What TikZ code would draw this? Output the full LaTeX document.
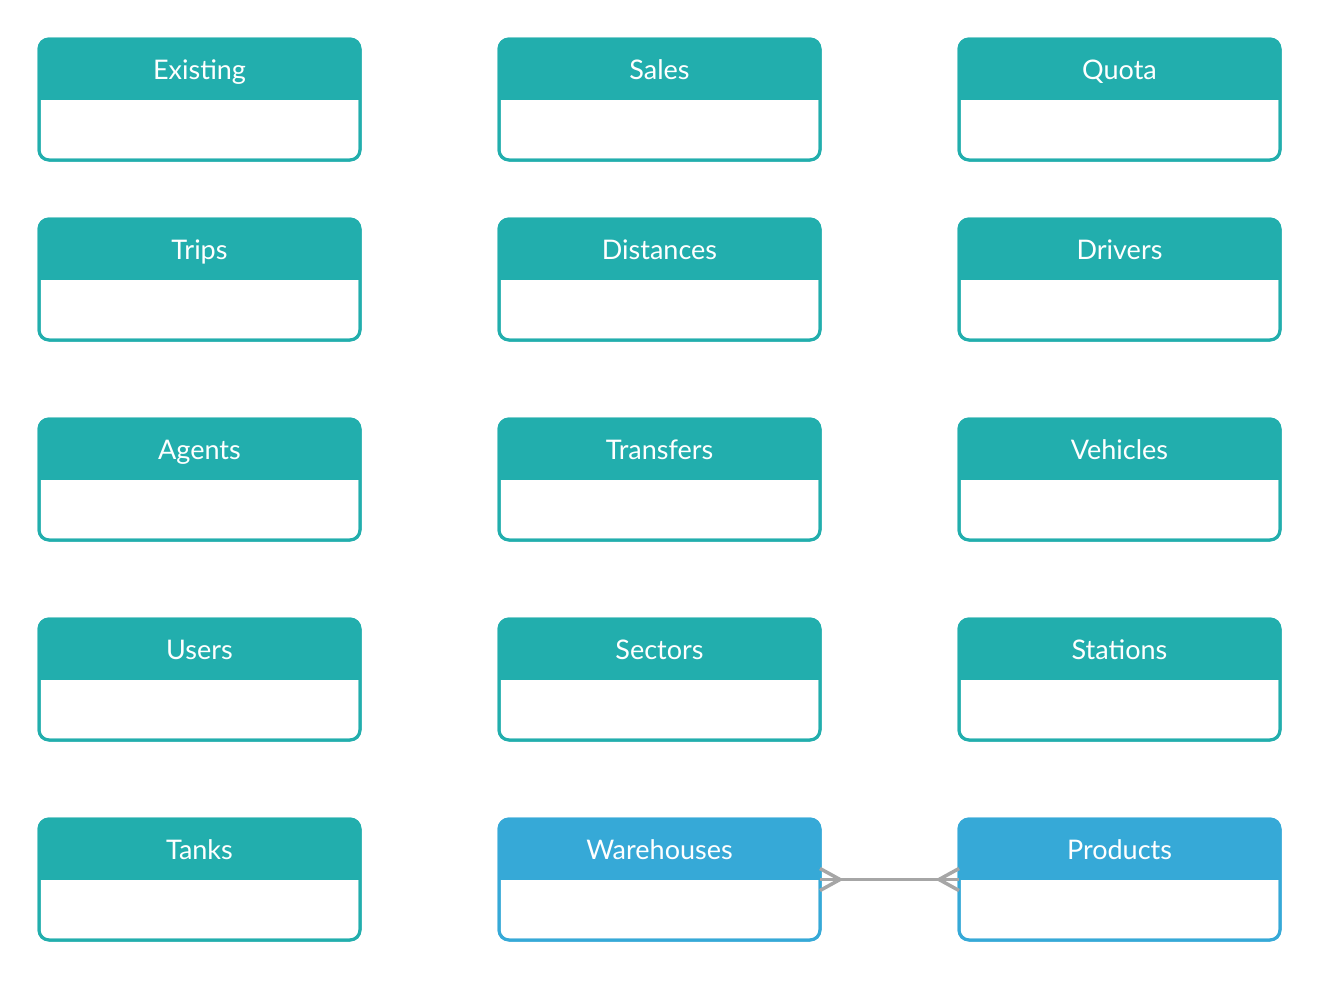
\documentclass[tikz,border=0pt]{standalone}
\usepackage{fontspec}
\setmainfont{Lato}
\usetikzlibrary{calc}
\definecolor{tealc}{HTML}{22AEAD}
\definecolor{bluec}{HTML}{36A9D7}
\definecolor{linkc}{HTML}{A6A6A6}
\tikzset{
  entity/.style={draw=#1, line width=3pt, rounded corners=10pt, minimum width=321pt,
    minimum height=121pt, inner sep=0pt, outer sep=0pt, fill=white},
  title/.style={text=white, font=\fontsize{27}{30}\selectfont, inner sep=0pt, anchor=base},
  link/.style={draw=linkc, line width=3.5pt}
}
\newcommand{\entitybox}[5]{%
  \node[entity=#5] (#1) at (#2,#3) {};
  \fill[#5, rounded corners=10pt] (#1.north west) rectangle ([yshift=-60.5pt]#1.north east);
  \fill[#5] ([yshift=-40pt]#1.north west) rectangle ([yshift=-60.5pt]#1.north east);
  \draw[#5, line width=3pt, rounded corners=10pt] (#1.north west) rectangle (#1.south east);
  \node[title] (#1-t) at ([yshift=-40.5pt]#1.north) {#4};
}
\begin{document}
\begin{tikzpicture}[x=1pt,y=-1pt]
\useasboundingbox (0,0) rectangle (1320,980);
\entitybox{existing}{199.5}{99.5}{Existing}{tealc}
\entitybox{sales}{659.5}{99.5}{Sales}{tealc}
\entitybox{quota}{1119.5}{99.5}{Quota}{tealc}
\entitybox{trips}{199.5}{279.5}{Trips}{tealc}
\entitybox{distances}{659.5}{279.5}{Distances}{tealc}
\entitybox{drivers}{1119.5}{279.5}{Drivers}{tealc}
\entitybox{agents}{199.5}{479.5}{Agents}{tealc}
\entitybox{transfers}{659.5}{479.5}{Transfers}{tealc}
\entitybox{vehicles}{1119.5}{479.5}{Vehicles}{tealc}
\entitybox{users}{199.5}{679.5}{Users}{tealc}
\entitybox{sectors}{659.5}{679.5}{Sectors}{tealc}
\entitybox{stations}{1119.5}{679.5}{Stations}{tealc}
\entitybox{tanks}{199.5}{879.5}{Tanks}{tealc}
\entitybox{warehouses}{659.5}{879.5}{Warehouses}{bluec}
\entitybox{products}{1119.5}{879.5}{Products}{bluec}
% connector
\coordinate (wa) at ([yshift=-60.5pt]warehouses.north east);
\coordinate (pa) at ([yshift=-60.5pt]products.north west);
\coordinate (wf) at ($(wa)+(20,0)$);
\coordinate (pf) at ($(pa)+(-20,0)$);
\draw[link] (wa) -- (pa);
\draw[link] ($(wa)+(0,-11)$) -- (wf) -- ($(wa)+(0,11)$);
\draw[link] ($(pa)+(0,-11)$) -- (pf) -- ($(pa)+(0,11)$);
\end{tikzpicture}
\end{document}
